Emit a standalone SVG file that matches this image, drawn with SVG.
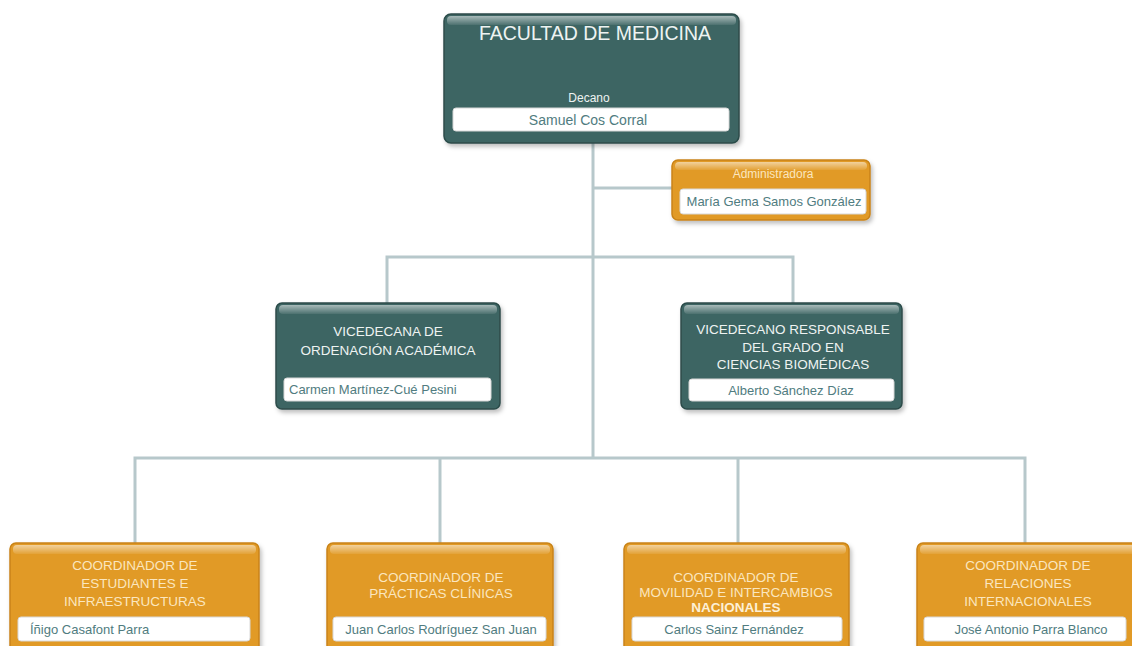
<svg xmlns="http://www.w3.org/2000/svg" width="1132" height="646" viewBox="0 0 1132 646">
<defs>
<linearGradient id="gloss" x1="0" y1="0" x2="0" y2="1">
<stop offset="0" stop-color="#ffffff" stop-opacity="0.55"/>
<stop offset="1" stop-color="#ffffff" stop-opacity="0.08"/>
</linearGradient>
<filter id="sh" x="-5%" y="-5%" width="115%" height="120%">
<feDropShadow dx="2" dy="3" stdDeviation="2" flood-color="#000" flood-opacity="0.25"/>
</filter>
<style>
.teal{fill:#3c6563;stroke:#2c4b49;stroke-width:1.5;filter:url(#sh)}
.orange{fill:#e19a28;stroke:#c98318;stroke-width:1.5;filter:url(#sh)}
.gl{fill:url(#gloss)}
.box{fill:#ffffff;stroke:#d8d8d8;stroke-width:1}
.t{font-family:"Liberation Sans",Arial,sans-serif;text-anchor:middle;fill:#eef3f2;font-size:13.5px}
.to{font-family:"Liberation Sans",Arial,sans-serif;text-anchor:middle;fill:#fbe6bf;font-size:13.5px}
.n{font-family:"Liberation Sans",Arial,sans-serif;text-anchor:middle;fill:#507c80;font-size:13px}
.c{stroke:#b7c8cb;stroke-width:3;fill:none}
</style>
</defs>
<rect width="1132" height="646" fill="#ffffff"/>
<g id="connectors">
<path class="c" d="M593 143 V458"/>
<path class="c" d="M593 188 H673"/>
<path class="c" d="M387 303 V257 H793 V303"/>
<path class="c" d="M135 543 V458 H1025 V543"/>
<path class="c" d="M440 458 V543"/>
<path class="c" d="M738 458 V543"/>
</g>
<g id="facultad">
<rect class="teal" x="444" y="14" width="295" height="129" rx="7"/>
<rect class="gl" x="447" y="16" width="289" height="9" rx="4"/>
<text class="t" x="595" y="40" style="font-size:19.5px">FACULTAD DE MEDICINA</text>
<text class="t" x="589" y="102" style="font-size:12px">Decano</text>
<rect class="box" x="453" y="108" width="276" height="23" rx="3"/>
<text class="n" x="588" y="125" style="font-size:14px">Samuel Cos Corral</text>
</g>
<g id="administradora">
<rect class="orange" x="672" y="160" width="198" height="60" rx="6"/>
<rect class="gl" x="675" y="162" width="192" height="8" rx="4"/>
<text class="to" x="773" y="178" style="font-size:12px">Administradora</text>
<rect class="box" x="680" y="189" width="186" height="25" rx="3"/>
<text class="n" x="774" y="206">María Gema Samos González</text>
</g>
<g id="vicedecana">
<rect class="teal" x="276" y="303" width="224" height="106" rx="6"/>
<rect class="gl" x="279" y="305" width="218" height="9" rx="4"/>
<text class="t" x="388" y="336">VICEDECANA DE</text>
<text class="t" x="388" y="355">ORDENACIÓN ACADÉMICA</text>
<rect class="box" x="284" y="378" width="207" height="23" rx="3"/>
<text class="n" x="289" y="394" style="text-anchor:start">Carmen Martínez-Cué Pesini</text>
</g>
<g id="vicedecano">
<rect class="teal" x="681" y="303" width="221" height="106" rx="6"/>
<rect class="gl" x="684" y="305" width="215" height="9" rx="4"/>
<text class="t" x="793" y="334">VICEDECANO RESPONSABLE</text>
<text class="t" x="793" y="352">DEL GRADO EN</text>
<text class="t" x="793" y="369">CIENCIAS BIOMÉDICAS</text>
<rect class="box" x="689" y="379" width="205" height="22" rx="3"/>
<text class="n" x="791" y="395">Alberto Sánchez Díaz</text>
</g>
<g id="coord-estudiantes">
<rect class="orange" x="10" y="543" width="249" height="110" rx="6"/>
<rect class="gl" x="13" y="545" width="243" height="9" rx="4"/>
<text class="to" x="135" y="570">COORDINADOR DE</text>
<text class="to" x="135" y="588">ESTUDIANTES E</text>
<text class="to" x="135" y="606">INFRAESTRUCTURAS</text>
<rect class="box" x="18" y="617" width="232" height="24" rx="3"/>
<text class="n" x="30" y="634" style="text-anchor:start">Íñigo Casafont Parra</text>
</g>
<g id="coord-practicas">
<rect class="orange" x="327" y="543" width="226" height="110" rx="6"/>
<rect class="gl" x="330" y="545" width="220" height="9" rx="4"/>
<text class="to" x="441" y="582">COORDINADOR DE</text>
<text class="to" x="441" y="598">PRÁCTICAS CLÍNICAS</text>
<rect class="box" x="333" y="617" width="213" height="24" rx="3"/>
<text class="n" x="441" y="634">Juan Carlos Rodríguez San Juan</text>
</g>
<g id="coord-movilidad">
<rect class="orange" x="624" y="543" width="225" height="110" rx="6"/>
<rect class="gl" x="627" y="545" width="219" height="9" rx="4"/>
<text class="to" x="736" y="582">COORDINADOR DE</text>
<text class="to" x="736" y="597">MOVILIDAD E INTERCAMBIOS</text>
<text class="to" x="736" y="612" style="font-weight:bold;fill:#fdf0d6">NACIONALES</text>
<rect class="box" x="632" y="617" width="210" height="24" rx="3"/>
<text class="n" x="734" y="634">Carlos Sainz Fernández</text>
</g>
<g id="coord-relaciones">
<rect class="orange" x="917" y="543" width="225" height="110" rx="6"/>
<rect class="gl" x="920" y="545" width="219" height="9" rx="4"/>
<text class="to" x="1028" y="570">COORDINADOR DE</text>
<text class="to" x="1028" y="588">RELACIONES</text>
<text class="to" x="1028" y="606">INTERNACIONALES</text>
<rect class="box" x="924" y="617" width="202" height="24" rx="3"/>
<text class="n" x="1031" y="634">José Antonio Parra Blanco</text>
</g>
</svg>
